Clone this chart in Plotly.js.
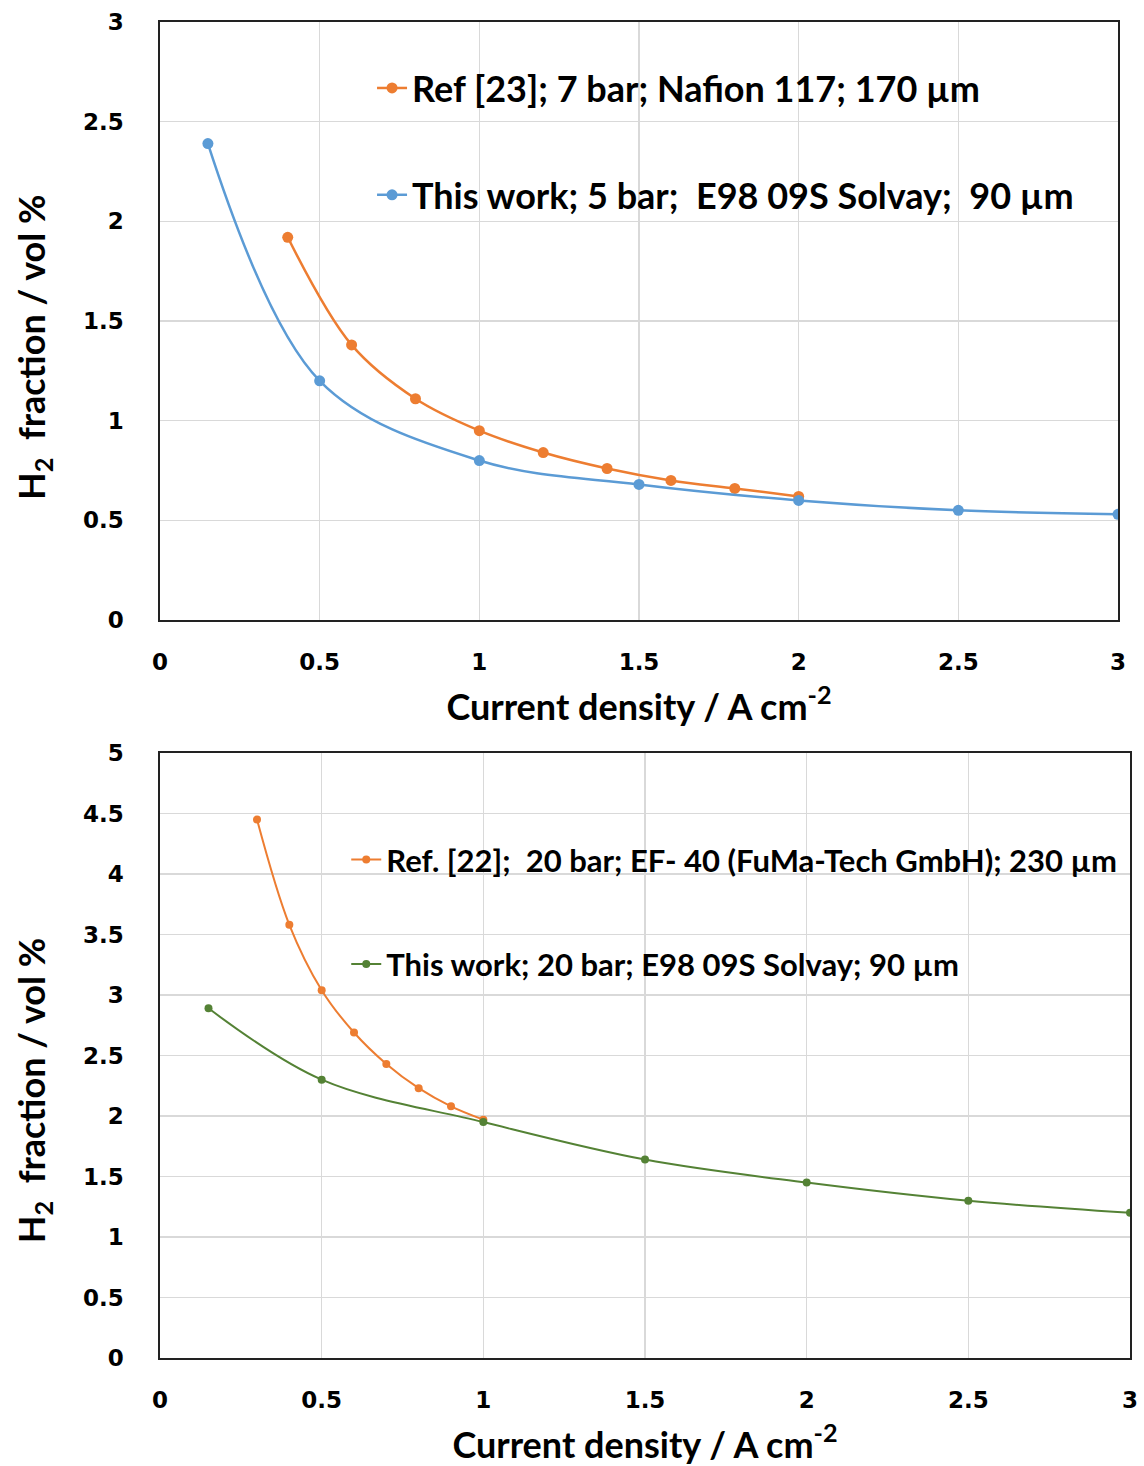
<!DOCTYPE html>
<html><head><meta charset="utf-8">
<script src="https://cdn.plot.ly/plotly-3.0.1.min.js"></script>
<style>body{margin:0;background:#fff}#c{width:1144px;height:1466px}</style>
</head><body><div id="c"></div>
<script>
// Top chart data
const topRefX = [0.4, 0.6, 0.8, 1.0, 1.2, 1.4, 1.6, 1.8, 2.0];
const topRefY = [1.92, 1.38, 1.11, 0.95, 0.84, 0.76, 0.70, 0.66, 0.62];
const topWorkX = [0.15, 0.5, 1.0, 1.5, 2.0, 2.5, 3.0];
const topWorkY = [2.39, 1.20, 0.80, 0.68, 0.60, 0.55, 0.53];
const topRefName = "Ref [23]; 7 bar; Nafion 117; 170 µm";
const topWorkName = "This work; 5 bar;  E98 09S Solvay;  90 µm";
// Bottom chart data
const botRefX = [0.3, 0.4, 0.5, 0.6, 0.7, 0.8, 0.9, 1.0];
const botRefY = [4.45, 3.58, 3.04, 2.69, 2.43, 2.23, 2.08, 1.97];
const botWorkX = [0.15, 0.5, 1.0, 1.5, 2.0, 2.5, 3.0];
const botWorkY = [2.89, 2.30, 1.95, 1.64, 1.45, 1.30, 1.20];
const botRefName = "Ref. [22];  20 bar; EF- 40 (FuMa-Tech GmbH); 230 µm";
const botWorkName = "This work; 20 bar; E98 09S Solvay; 90 µm";
const xTicks = [0, 0.5, 1, 1.5, 2, 2.5, 3];
const xTickText = ["0", "0.5", "1", "1.5", "2", "2.5", "3"];
const yTicksTop = [0, 0.5, 1, 1.5, 2, 2.5, 3];
const yTicksBot = [0, 0.5, 1, 1.5, 2, 2.5, 3, 3.5, 4, 4.5, 5];

const ORANGE = "#ED7D31", BLUE = "#5B9BD5", GREEN = "#548235";
const traces = [
  {x: topRefX, y: topRefY, name: topRefName, type: "scatter", mode: "lines+markers",
   line: {color: ORANGE, width: 2.5, shape: "spline", smoothing: 1}, marker: {color: ORANGE, size: 11},
   xaxis: "x", yaxis: "y", legend: "legend", legendgroup: "a"},
  {x: topWorkX, y: topWorkY, name: topWorkName, type: "scatter", mode: "lines+markers",
   line: {color: BLUE, width: 2.5, shape: "spline", smoothing: 1}, marker: {color: BLUE, size: 11},
   xaxis: "x", yaxis: "y", legend: "legend", legendgroup: "b"},
  {x: botRefX, y: botRefY, name: botRefName, type: "scatter", mode: "lines+markers",
   line: {color: ORANGE, width: 2, shape: "spline", smoothing: 1}, marker: {color: ORANGE, size: 8},
   xaxis: "x2", yaxis: "y2", legend: "legend2", legendgroup: "c"},
  {x: botWorkX, y: botWorkY, name: botWorkName, type: "scatter", mode: "lines+markers",
   line: {color: GREEN, width: 2, shape: "spline", smoothing: 1}, marker: {color: GREEN, size: 8},
   xaxis: "x2", yaxis: "y2", legend: "legend2", legendgroup: "d"}
];

const tickFont = {family: "DejaVu Sans", size: 23, color: "#000", weight: "bold"};
const titleFont = {family: "Lato", size: 36, color: "#000", weight: "bold"};
const yTitle = "H<sub>2</sub>  fraction / vol %";
function xax(domain, anchor) {
  return {domain: domain, anchor: anchor, range: [0, 3], tickvals: xTicks, ticktext: xTickText,
    showgrid: true, gridcolor: "#d9d9d9", gridwidth: 1.3, zeroline: false,
    showline: true, linecolor: "#222", linewidth: 1.6, mirror: true, ticks: "",
    tickfont: tickFont, ticklabelstandoff: 21,
    title: {text: "Current density / A cm<sup>-2</sup>", font: titleFont, standoff: 20}, automargin: false};
}
function yax(domain, anchor, range, ticks, pad) {
  return {domain: domain, anchor: anchor, range: range, tickvals: ticks,
    showgrid: true, gridcolor: "#d9d9d9", gridwidth: 1.3, zeroline: false,
    showline: true, linecolor: "#222", linewidth: 1.6, mirror: true, ticks: "",
    tickfont: tickFont, ticklabelstandoff: 30,
    title: {text: yTitle + "&nbsp;".repeat(pad), font: titleFont, standoff: 26}, automargin: false};
}
const layout = {
  width: 1144, height: 1466,
  margin: {l: 160, r: 14, t: 22, b: 108},
  paper_bgcolor: "#fff", plot_bgcolor: "#fff",
  showlegend: true,
  xaxis: xax([0, 0.98763], "y"),
  yaxis: yax([0.5524, 1], "x", [0, 3], yTicksTop, 6),
  xaxis2: xax([0, 1], "y2"),
  yaxis2: yax([0, 0.45284], "x2", [0, 5], yTicksBot, 8),
  legend: {x: 0.2186, y: 0.973, xanchor: "left", yanchor: "top", bgcolor: "rgba(0,0,0,0)",
    font: {family: "Lato", size: 36, color: "#000", weight: "bold"}, tracegroupgap: 57, traceorder: "grouped"},
  legend2: {x: 0.192, y: 0.393, xanchor: "left", yanchor: "top", bgcolor: "rgba(0,0,0,0)",
    font: {family: "Lato", size: 31, color: "#000", weight: "bold"}, tracegroupgap: 61, traceorder: "grouped"}
};
Plotly.newPlot("c", traces, layout, {displayModeBar: false, staticPlot: true});
</script></body></html>
